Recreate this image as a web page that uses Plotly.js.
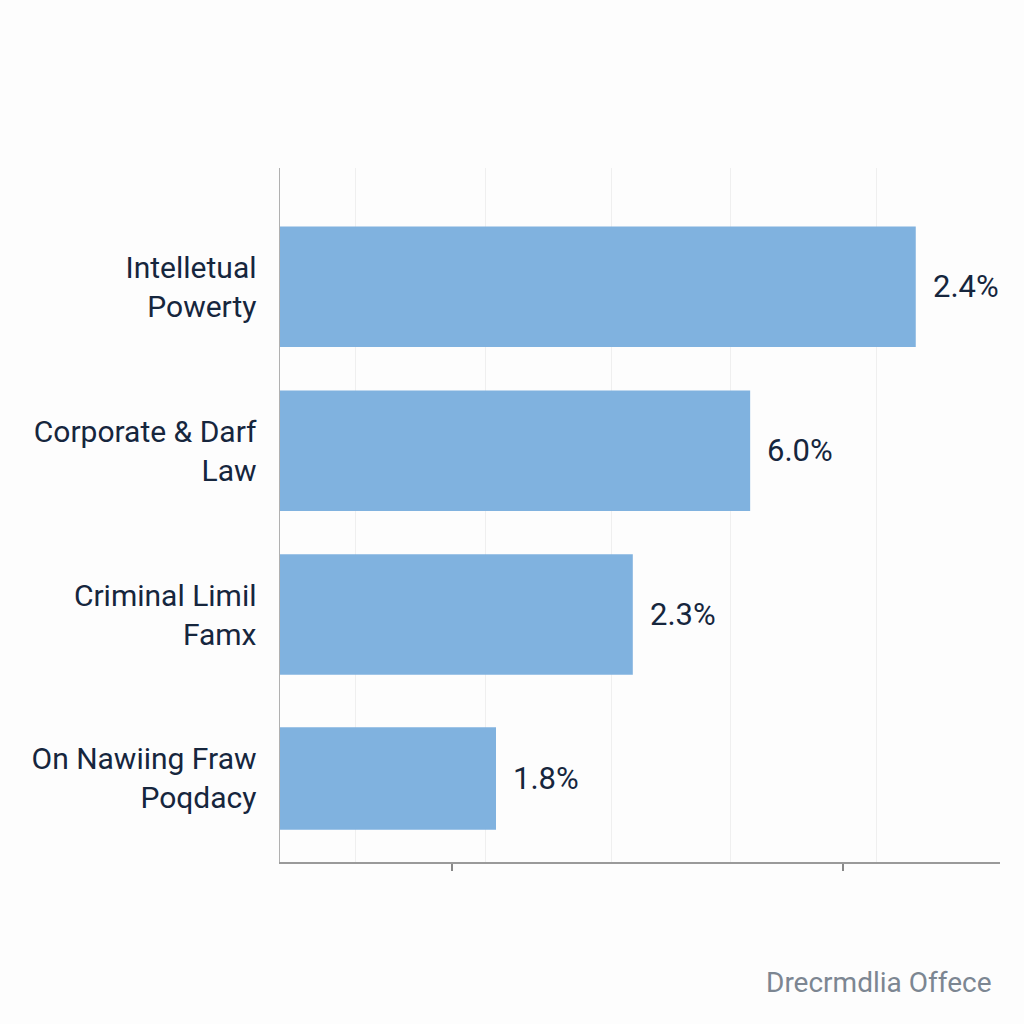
<!DOCTYPE html>
<html>
<head>
<meta charset="utf-8">
<script src="https://cdn.plot.ly/plotly-3.0.1.min.js"></script>
<style>html,body{margin:0;padding:0;background:#fdfdfd;}#chart{width:1024px;height:1024px;}</style>
</head>
<body>
<div id="chart"></div>
<script>
// Categories, top to bottom
const categories = ["Intelletual<br>Powerty", "Corporate & Darf<br>Law", "Criminal Limil<br>Famx", "On Nawiing Fraw<br>Poqdacy"];
// Bar lengths (relative scale)
const barValues = [8.83, 6.53, 4.90, 3.00];
// Value labels as printed
const valueLabels = ["2.4%", "6.0%", "2.3%", "1.8%"];
const footerText = "Drecrmdlia Offece";

const navy = "#16263d";

const trace = {
  type: "bar",
  orientation: "h",
  y: categories,
  x: barValues,
  width: [0.735, 0.735, 0.735, 0.625],
  marker: {color: "#80b2df"},
  hoverinfo: "skip"
};

const annotations = categories.map((c, i) => ({
  x: barValues[i], y: c, xref: "x", yref: "y",
  text: valueLabels[i], showarrow: false,
  xanchor: "left", yanchor: "middle", xshift: 15,
  font: {family: "Roboto, 'Noto Sans', sans-serif", size: 31, color: navy}
}));
annotations.push({
  x: 1 + (994 - 1000) / 720, y: -(982 - 862) / 694,
  xref: "paper", yref: "paper", text: footerText, showarrow: false,
  xanchor: "right", yanchor: "middle",
  font: {family: "Roboto, 'Noto Sans', sans-serif", size: 28, color: "#7c8692"}
});

const layout = {
  width: 1024, height: 1024,
  margin: {l: 280, r: 24, t: 168, b: 162},
  paper_bgcolor: "#fdfdfd",
  plot_bgcolor: "#fdfdfd",
  showlegend: false,
  font: {family: "Roboto, 'Noto Sans', sans-serif", color: navy},
  xaxis: {
    range: [0, 10],
    tickmode: "array",
    tickvals: [1.05, 2.85, 4.6, 6.25, 8.28],
    showticklabels: false,
    ticks: "",
    showgrid: true, gridcolor: "#efefef", gridwidth: 1,
    zeroline: false,
    showline: true, linecolor: "#9a9a9a", linewidth: 1.5,
    minor: {tickmode: "array", tickvals: [2.39, 7.82], ticks: "outside", ticklen: 7, tickcolor: "#888", tickwidth: 1.5, showgrid: false},
    fixedrange: true
  },
  yaxis: {
    type: "category",
    range: [3.51, -0.725],
    showline: true, linecolor: "#b0b0b0", linewidth: 1.5,
    showgrid: false, zeroline: false,
    ticks: "",
    ticklabelstandoff: 16,
    tickfont: {size: 30, color: navy},
    fixedrange: true
  },
  annotations: annotations
};

Plotly.newPlot("chart", [trace], layout, {displayModeBar: false, staticPlot: true});
</script>
</body>
</html>
